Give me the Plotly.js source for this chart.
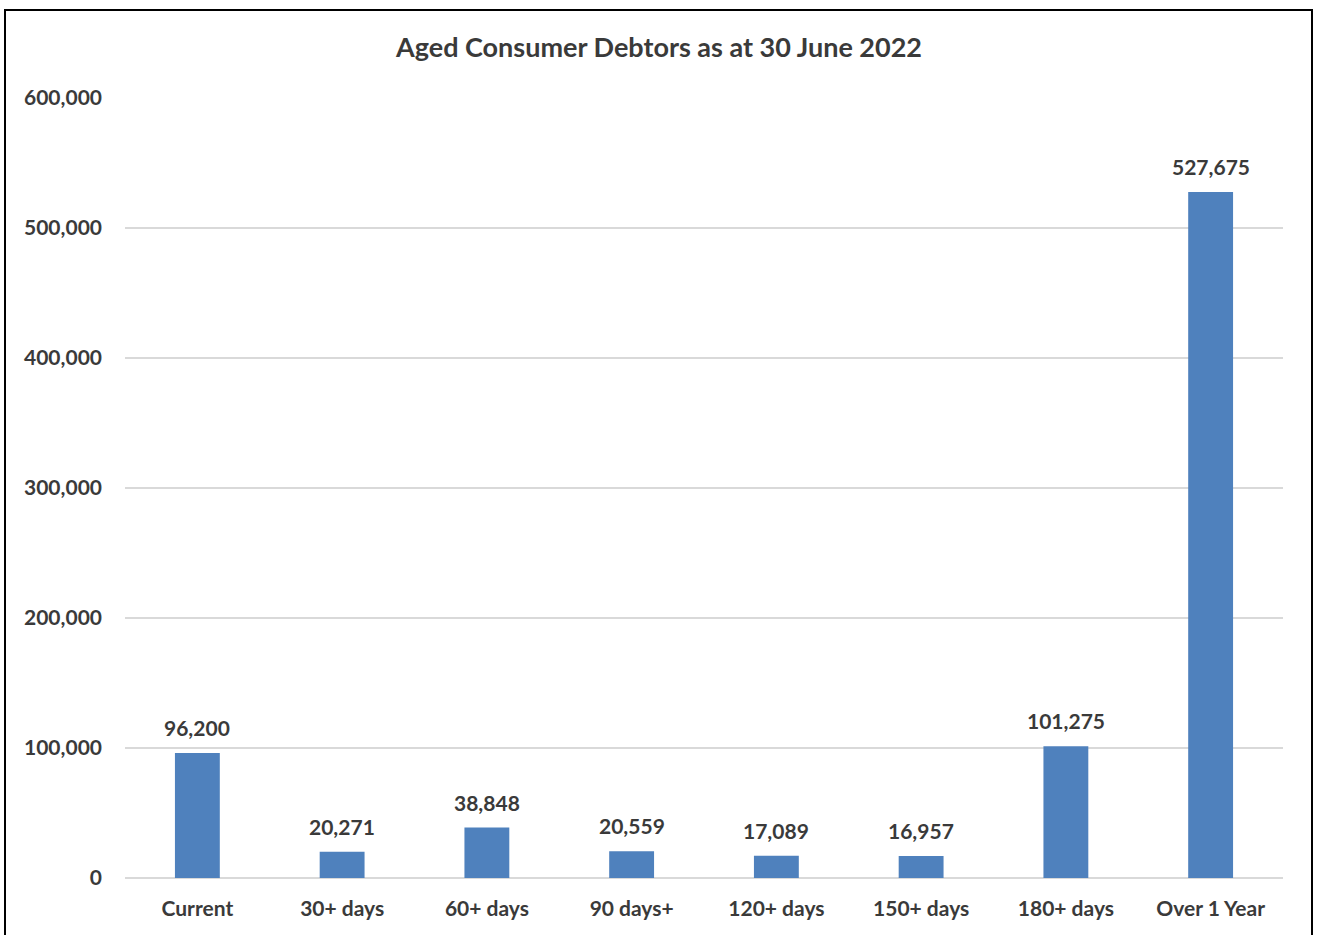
<!DOCTYPE html>
<html>
<head>
<meta charset="utf-8">
<script src="https://cdn.plot.ly/plotly-3.0.1.min.js"></script>
<style>html,body{margin:0;padding:0;background:#fff;}#chart{width:1318px;height:935px;}</style>
</head>
<body>
<div id="chart"></div>
<script>
const categories = ["Current", "30+ days", "60+ days", "90 days+", "120+ days", "150+ days", "180+ days", "Over 1 Year"];
const values = [96200, 20271, 38848, 20559, 17089, 16957, 101275, 527675];
const yTickValues = [0, 100000, 200000, 300000, 400000, 500000, 600000];
const yTickLabels = ["0", "100,000", "200,000", "300,000", "400,000", "500,000", "600,000"];
const chartTitle = "Aged Consumer Debtors as at 30 June 2022";

const W = 1318, H = 935;
const M = {l: 125, r: 35, t: 98, b: 57};
const pw = W - M.l - M.r, ph = H - M.t - M.b;
const px = x => (x - M.l) / pw;
const py = y => (H - M.b - y) / ph;

const fontFam = "Lato, 'Open Sans', sans-serif";
const txtColor = "#3a3a3a";
const labelFont = {family: fontFam, size: 21, color: txtColor, weight: "bold"};

const trace = {
  type: "bar",
  x: categories,
  y: values,
  marker: {color: "#4f81bd"},
  width: 0.31,
  hoverinfo: "x+y"
};

const labelAnnotations = categories.map((c, i) => ({
  x: c, y: values[i], xref: "x", yref: "y",
  text: values[i].toLocaleString("en-US"),
  showarrow: false, yanchor: "bottom", xanchor: "center",
  yshift: 11,
  font: labelFont
}));

const layout = {
  width: W, height: H,
  margin: M,
  paper_bgcolor: "#ffffff",
  plot_bgcolor: "#ffffff",
  showlegend: false,
  title: {
    text: chartTitle,
    font: {family: fontFam, size: 27, color: txtColor, weight: "bold"},
    x: 0.5, xanchor: "center",
    y: 1 - 48 / H, yanchor: "middle"
  },
  xaxis: {
    type: "category",
    tickfont: labelFont,
    showgrid: false, zeroline: false, showline: false,
    ticks: "", ticklabelstandoff: 16
  },
  yaxis: {
    range: [0, 600000],
    tickvals: yTickValues,
    ticktext: yTickLabels,
    tickfont: labelFont,
    showgrid: true, gridcolor: "#d9d9d9", gridwidth: 1.5,
    zeroline: true, zerolinecolor: "#d9d9d9", zerolinewidth: 1.5,
    showline: false, ticks: "", ticklabelstandoff: 22
  },
  annotations: labelAnnotations,
  shapes: [{
    type: "rect", xref: "paper", yref: "paper",
    x0: px(5), x1: px(1312), y0: py(945), y1: py(10),
    line: {color: "#000000", width: 2}, fillcolor: "rgba(0,0,0,0)", layer: "above"
  }]
};

Plotly.newPlot("chart", [trace], layout, {displayModeBar: false, staticPlot: true});
</script>
</body>
</html>
